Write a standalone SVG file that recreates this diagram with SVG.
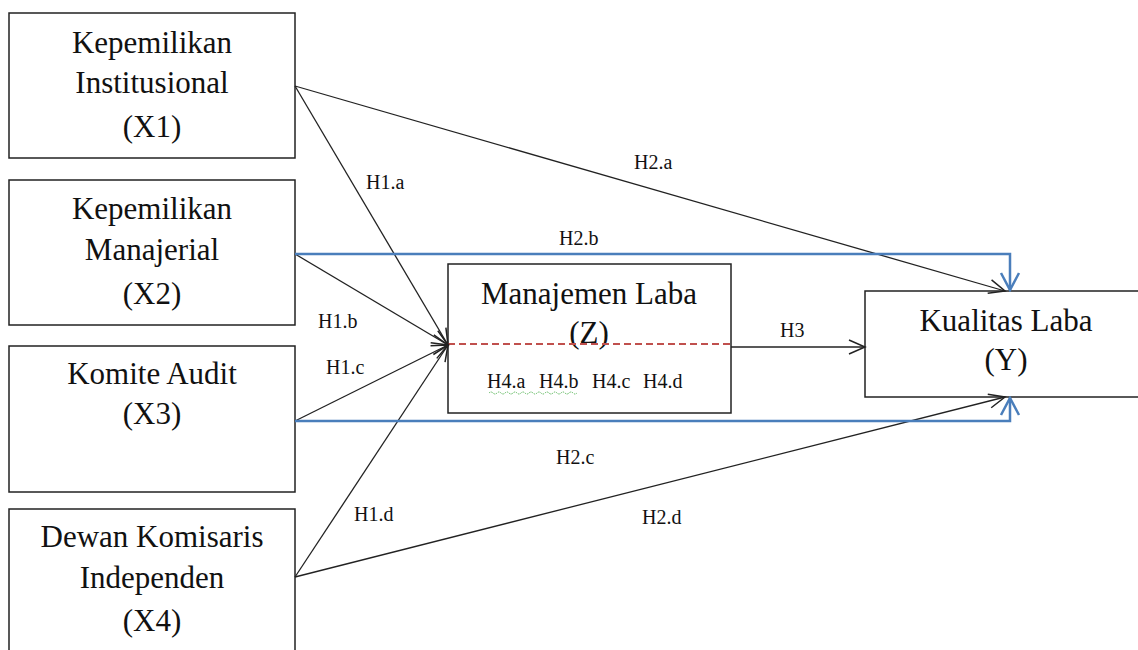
<svg xmlns="http://www.w3.org/2000/svg" width="1138" height="650" viewBox="0 0 1138 650">
<style>
.box{fill:#fff;stroke:#222;stroke-width:1.5}
.t{font-family:"Liberation Serif","Times New Roman",serif;font-size:31px;fill:#111;text-anchor:middle}
.l{font-family:"Liberation Serif","Times New Roman",serif;font-size:20px;fill:#111}
.k{fill:none;stroke:#222;stroke-width:1.3}
.b{fill:none;stroke:#4a7ebb;stroke-width:2.5}
</style>
<defs>
<marker id="ak" viewBox="0 0 20 20" refX="18" refY="10" markerWidth="20" markerHeight="20" markerUnits="userSpaceOnUse" orient="auto">
<path d="M2,3 L18,10 L2,17" fill="none" stroke="#222" stroke-width="1.5"/>
</marker>
<marker id="ab" viewBox="0 0 22 22" refX="20" refY="11" markerWidth="22" markerHeight="22" markerUnits="userSpaceOnUse" orient="auto">
<path d="M3,2 L20,11 L3,20" fill="none" stroke="#4a7ebb" stroke-width="2.5"/>
</marker>
</defs>
<rect width="1138" height="650" fill="#fff"/>
<g id="x1"><rect class="box" x="9" y="13" width="286" height="145"/>
<text class="t" x="152" y="53">Kepemilikan</text><text class="t" x="152" y="93">Institusional</text><text class="t" x="152" y="137">(X1)</text></g>
<g id="x2"><rect class="box" x="9" y="180" width="286" height="145"/>
<text class="t" x="152" y="219">Kepemilikan</text><text class="t" x="152" y="260">Manajerial</text><text class="t" x="152" y="304">(X2)</text></g>
<g id="x3"><rect class="box" x="9" y="346" width="286" height="146"/>
<text class="t" x="152" y="384">Komite Audit</text><text class="t" x="152" y="424">(X3)</text></g>
<g id="x4"><rect class="box" x="9" y="509" width="286" height="160"/>
<text class="t" x="152" y="547">Dewan Komisaris</text><text class="t" x="152" y="588">Independen</text><text class="t" x="152" y="631">(X4)</text></g>
<g id="z"><rect class="box" x="448" y="264" width="283" height="149"/>
<text class="t" x="589" y="304">Manajemen Laba</text><text class="t" x="589" y="343">(Z)</text>
<text class="l" x="487" y="388">H4.a</text><text class="l" x="539" y="388">H4.b</text><text class="l" x="592" y="388">H4.c</text><text class="l" x="643" y="388">H4.d</text>
<path d="M489,393 q2,-2 4,0 t4,0 t4,0 t4,0 t4,0 t4,0 t4,0 t4,0 t4,0 t4,0 t4,0 t4,0 t4,0 t4,0 t4,0 t4,0 t4,0 t4,0 t4,0 t4,0 t4,0 t4,0" fill="none" stroke="#5cb85c" stroke-width="1" stroke-dasharray="1.5,1"/>
</g>
<g id="y"><rect class="box" x="865" y="291" width="285" height="106"/>
<text class="t" x="1006" y="331">Kualitas Laba</text><text class="t" x="1006" y="370">(Y)</text></g>
<g id="connectors">
<line x1="448" y1="344" x2="731" y2="344" stroke="#c0504d" stroke-width="2" stroke-dasharray="7,4"/>
<line class="k" x1="295" y1="86" x2="1005" y2="291" marker-end="url(#ak)"/>
<line class="k" x1="295" y1="86" x2="448" y2="345" marker-end="url(#ak)"/>
<line class="k" x1="295" y1="254" x2="448" y2="345" marker-end="url(#ak)"/>
<line class="k" x1="295" y1="421" x2="448" y2="345" marker-end="url(#ak)"/>
<line class="k" x1="295" y1="577" x2="448" y2="345" marker-end="url(#ak)"/>
<line class="k" x1="295" y1="577" x2="1005" y2="397" marker-end="url(#ak)"/>
<line class="k" x1="731" y1="347" x2="865" y2="347" marker-end="url(#ak)"/>
<path class="b" d="M295,254 H1010 V290" marker-end="url(#ab)"/>
<path class="b" d="M295,421 H1010 V398" marker-end="url(#ab)"/>
<text class="l" x="634" y="169">H2.a</text>
<text class="l" x="366" y="189">H1.a</text>
<text class="l" x="559" y="245">H2.b</text>
<text class="l" x="318" y="328">H1.b</text>
<text class="l" x="326" y="374">H1.c</text>
<text class="l" x="556" y="464">H2.c</text>
<text class="l" x="354" y="521">H1.d</text>
<text class="l" x="642" y="524">H2.d</text>
<text class="l" x="780" y="337">H3</text>
</g>
</svg>
